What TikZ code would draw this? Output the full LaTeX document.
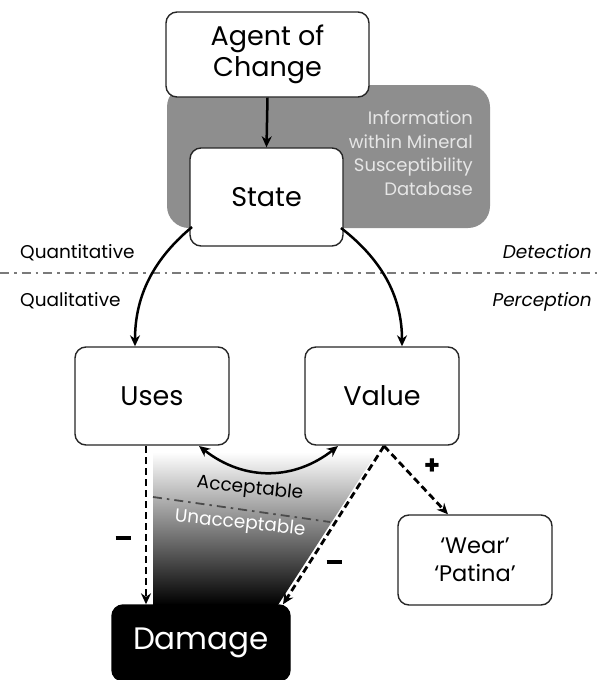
\documentclass[tikz,border=0pt]{standalone}
\usepackage{fontspec}
\setmainfont{Poppins}
\usetikzlibrary{arrows.meta}
\definecolor{dbgray}{HTML}{8E8E8E}
\definecolor{dbtext}{HTML}{E6E6E6}
\definecolor{sepgray}{HTML}{7A7A7A}
\begin{document}
\begin{tikzpicture}[x=1pt,y=-1pt,
  box/.style={draw=black!85, line width=1.4pt, rounded corners=11pt, fill=white, inner sep=0pt, align=center, font=\fontsize{27}{31}\selectfont},
  lbl/.style={inner sep=0pt, font=\fontsize{18.5}{22}\selectfont},
  conn/.style={line width=2.5pt, -{Stealth[length=11pt,width=10pt]}},
  dconn/.style={line width=2.8pt, dash pattern=on 7pt off 4pt, -{Stealth[length=11pt,width=10pt]}},
  sepline/.style={sepgray, line width=2pt, dash pattern=on 9pt off 5pt on 2.5pt off 5pt},
  sign/.style={inner sep=0pt}
  ]
\useasboundingbox (0,0) rectangle (601,680);

% database panel
\node[fill=dbgray, rounded corners=22pt, minimum width=323pt, minimum height=143pt, inner sep=0pt] (db) at (328.5,156.5) {};
\node[lbl, text=dbtext, align=right, anchor=north east, font=\fontsize{18}{23.5}\selectfont] (dbtxt) at (473,111) {Information\\within Mineral\\Susceptibility\\Database};

% separator
\coordinate (sepL) at (0,273);
\coordinate (sepR) at (601,273);
\draw[sepline] (sepL) -- (sepR);
\node[lbl, anchor=base west] (quant) at (20,258) {Quantitative};
\node[lbl, anchor=base west] (qual) at (20,306) {Qualitative};
\node[lbl, anchor=base east, font=\fontsize{18.5}{22}\selectfont\itshape] (detect) at (592,258) {Detection};
\node[lbl, anchor=base east, font=\fontsize{18.5}{22}\selectfont\itshape] (percep) at (592,306) {Perception};

% gradient zone
\shade[top color=white, bottom color=black] (153,452) -- (377,452) -- (278,605) -- (153,605) -- cycle;
\coordinate (accL) at (153,497);
\coordinate (accR) at (330,522);
\draw[sepline, black!70, line width=1.8pt] (accL) -- (accR);
\node[lbl, rotate=-6] (acc) at (250,489) {Acceptable};
\node[lbl, rotate=-6, text=white] (unacc) at (240,524) {Unacceptable};

% boxes
\node[box, minimum width=203pt, minimum height=85pt] (agent) at (267.5,54.5) {Agent of\\Change};
\node[box, minimum width=153pt, minimum height=98pt] (state) at (266.5,197) {State};
\node[box, minimum width=154pt, minimum height=98pt] (uses) at (152,396) {Uses};
\node[box, minimum width=154pt, minimum height=98pt] (value) at (382,396) {Value};
\node[box, minimum width=154pt, minimum height=90pt, font=\fontsize{22.5}{28}\selectfont] (wear) at (475,560) {‘Wear’\\‘Patina’};
\node[box, fill=black, draw=black, text=white, minimum width=178pt, minimum height=76pt, font=\fontsize{31}{36}\selectfont] (damage) at (201,643) {Damage};

% connectors
\draw[conn] (agent.south) -- (state.north);
\coordinate (sL) at (192,227);
\coordinate (sR) at (341,228);
\draw[conn] (sL) .. controls (150,262) and (135,300) .. ([xshift=-17pt]uses.north);
\draw[conn] (sR) .. controls (385,262) and (402,300) .. ([xshift=20pt]value.north);
\coordinate (uB) at (199,446);
\coordinate (vB) at (338,446);
\draw[line width=2.5pt, {Stealth[length=11pt,width=10pt]}-{Stealth[length=11pt,width=10pt]}] (uB) .. controls (245,482) and (295,480) .. (vB);

\coordinate (uOut) at (146,446);
\coordinate (vOut) at (384,446);
\draw[dconn] (uOut) -- ([xshift=-55pt]damage.north);
\draw[dconn] (vOut) -- ([xshift=82pt]damage.north);
\draw[dconn] (vOut) -- ([xshift=-27pt]wear.north);

\node[sign] (m1) at (123,538) {\rule{15pt}{4pt}};
\node[sign] (m2) at (334,562) {\rule{15pt}{4pt}};
\node[sign, font=\fontsize{26}{26}\selectfont\bfseries] (p1) at (432,467) {+};
\end{tikzpicture}
\end{document}
